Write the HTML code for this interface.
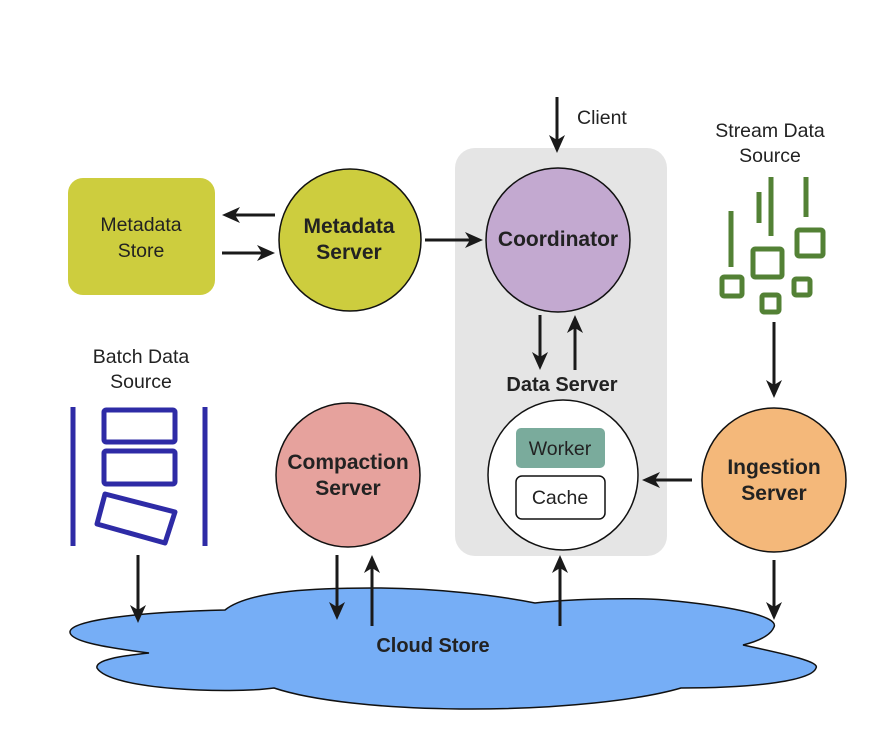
<!DOCTYPE html>
<html><head><meta charset="utf-8"><style>
html,body{margin:0;padding:0;background:#fff;}
svg{display:block;font-family:"Liberation Sans",sans-serif;}
</style></head><body>
<svg width="880" height="734" viewBox="0 0 880 734" xmlns="http://www.w3.org/2000/svg">
<!-- gray container -->
<rect x="455" y="148" width="212" height="408" rx="20" fill="#e5e5e5"/>

<!-- Metadata store -->
<rect x="68" y="178" width="147" height="117" rx="15" fill="#cdcd3e"/>
<text x="141" y="231" font-size="19.5" text-anchor="middle" fill="#222">Metadata</text>
<text x="141" y="257" font-size="19.5" text-anchor="middle" fill="#222">Store</text>

<!-- Metadata Server -->
<circle cx="350" cy="240" r="71" fill="#cdcd3e" stroke="#111" stroke-width="1.5"/>
<text x="349" y="233" font-size="21" font-weight="bold" text-anchor="middle" fill="#222">Metadata</text>
<text x="349" y="259" font-size="21" font-weight="bold" text-anchor="middle" fill="#222">Server</text>

<!-- Coordinator -->
<circle cx="558" cy="240" r="72" fill="#c3a9d0" stroke="#111" stroke-width="1.5"/>
<text x="558" y="246" font-size="21" font-weight="bold" text-anchor="middle" fill="#222">Coordinator</text>
<text x="577" y="124" font-size="19.5" fill="#222">Client</text>
<text x="562" y="391" font-size="20" font-weight="bold" text-anchor="middle" fill="#222">Data Server</text>

<!-- Data server circle -->
<circle cx="563" cy="475" r="75" fill="#fff" stroke="#111" stroke-width="1.5"/>
<rect x="516" y="428" width="89" height="40" rx="5" fill="#7aab9c"/>
<text x="560" y="455" font-size="19.5" text-anchor="middle" fill="#222">Worker</text>
<rect x="516" y="476" width="89" height="43" rx="6" fill="#fff" stroke="#111" stroke-width="1.5"/>
<text x="560" y="504" font-size="19.5" text-anchor="middle" fill="#222">Cache</text>

<!-- Ingestion -->
<circle cx="774" cy="480" r="72" fill="#f4b87a" stroke="#111" stroke-width="1.5"/>
<text x="774" y="474" font-size="21" font-weight="bold" text-anchor="middle" fill="#222">Ingestion</text>
<text x="774" y="500" font-size="21" font-weight="bold" text-anchor="middle" fill="#222">Server</text>

<!-- Compaction -->
<circle cx="348" cy="475" r="72" fill="#e6a29d" stroke="#111" stroke-width="1.5"/>
<text x="348" y="469" font-size="21" font-weight="bold" text-anchor="middle" fill="#222">Compaction</text>
<text x="348" y="495" font-size="21" font-weight="bold" text-anchor="middle" fill="#222">Server</text>

<!-- Stream source -->
<text x="770" y="137" font-size="19.5" text-anchor="middle" fill="#222">Stream Data</text>
<text x="770" y="162" font-size="19.5" text-anchor="middle" fill="#222">Source</text>
<g stroke="#538135" stroke-width="5" fill="none">
<line x1="731" y1="211" x2="731" y2="267"/>
<line x1="759" y1="192" x2="759" y2="223"/>
<line x1="771" y1="177" x2="771" y2="236"/>
<line x1="806" y1="177" x2="806" y2="217"/>
<rect x="722" y="277" width="20" height="19" rx="2"/>
<rect x="753" y="249" width="29" height="28" rx="2"/>
<rect x="797" y="230" width="26" height="26" rx="2"/>
<rect x="762" y="295" width="17" height="17" rx="2"/>
<rect x="794" y="279" width="16" height="16" rx="2"/>
</g>

<!-- Batch source -->
<text x="141" y="363" font-size="19.5" text-anchor="middle" fill="#222">Batch Data</text>
<text x="141" y="388" font-size="19.5" text-anchor="middle" fill="#222">Source</text>
<g stroke="#2e2ba6" stroke-width="5" fill="none">
<line x1="73" y1="407" x2="73" y2="546"/>
<line x1="205" y1="407" x2="205" y2="546"/>
<rect x="104" y="410" width="71" height="32" rx="2"/>
<rect x="104" y="451" width="71" height="33" rx="2"/>
<polygon points="105,494 175,512 165,543 97,524" stroke-linejoin="round"/>
</g>

<!-- Cloud -->
<path d="M70,632 C70,620 140,612 225,610 C250,590 320,588 373,588 C440,588 500,596 535,603 C580,598 640,598 665,600 C720,605 780,615 774,627 C770,637 755,642 743,645 C790,655 820,662 816,668 C812,680 760,688 681,688 C640,700 560,709 472,709 C380,709 310,700 274,688 C230,694 110,690 97,668 C95,660 120,656 149,653 C110,648 70,642 70,632 Z" fill="#76aef6" stroke="#111" stroke-width="1.5"/>
<text x="433" y="652" font-size="20" font-weight="bold" text-anchor="middle" fill="#222">Cloud Store</text>

<!-- arrows -->
<g stroke="#1a1a1a" stroke-width="3" fill="#1a1a1a">
<line x1="275" y1="215" x2="232" y2="215"/><polygon points="222,215 240,207 235,215 240,223" stroke="none"/>
<line x1="222" y1="253" x2="265" y2="253"/><polygon points="275,253 257,245 262,253 257,261" stroke="none"/>
<line x1="425" y1="240" x2="473" y2="240"/><polygon points="483,240 465,232 470,240 465,248" stroke="none"/>
<line x1="557" y1="97" x2="557" y2="142"/><polygon points="557,153 549,135 557,140 565,135" stroke="none"/>
<line x1="540" y1="315" x2="540" y2="360"/><polygon points="540,370 532,352 540,357 548,352" stroke="none"/>
<line x1="575" y1="370" x2="575" y2="325"/><polygon points="575,315 567,333 575,328 583,333" stroke="none"/>
<line x1="774" y1="322" x2="774" y2="388"/><polygon points="774,398 766,380 774,385 782,380" stroke="none"/>
<line x1="692" y1="480" x2="652" y2="480"/><polygon points="642,480 660,472 655,480 660,488" stroke="none"/>
<line x1="774" y1="560" x2="774" y2="610"/><polygon points="774,620 766,602 774,607 782,602" stroke="none"/>
<line x1="138" y1="555" x2="138" y2="612"/><polygon points="138,623 130,605 138,610 146,605" stroke="none"/>
<line x1="337" y1="555" x2="337" y2="610"/><polygon points="337,620 329,602 337,607 345,602" stroke="none"/>
<line x1="372" y1="626" x2="372" y2="565"/><polygon points="372,555 364,573 372,568 380,573" stroke="none"/>
<line x1="560" y1="626" x2="560" y2="565"/><polygon points="560,555 552,573 560,568 568,573" stroke="none"/>
</g>
</svg>
</body></html>
